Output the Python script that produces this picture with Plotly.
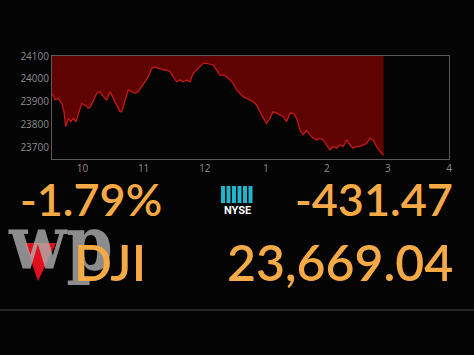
import plotly.graph_objects as go

# --- data (hours since midnight, Dow Jones index level) ---
times = [9.5, 9.521, 9.549, 9.603, 9.659, 9.696, 9.724, 9.767, 9.806, 9.849, 9.893,
         9.930, 9.986, 10.040, 10.094, 10.133, 10.176, 10.232, 10.286, 10.340, 10.395,
         10.449, 10.503, 10.559, 10.613, 10.641, 10.695, 10.749, 10.804, 10.858, 10.912,
         10.968, 11.022, 11.076, 11.132, 11.186, 11.240, 11.268, 11.322, 11.377, 11.431,
         11.485, 11.541, 11.595, 11.649, 11.703, 11.759, 11.813, 11.868, 11.922, 11.976,
         12.032, 12.086, 12.140, 12.196, 12.250, 12.304, 12.359, 12.413, 12.467, 12.523,
         12.577, 12.631, 12.687, 12.741, 12.795, 12.850, 12.932, 13.014, 13.068, 13.122,
         13.178, 13.232, 13.286, 13.341, 13.395, 13.449, 13.505, 13.559, 13.613, 13.668,
         13.722, 13.776, 13.832, 13.886, 13.940, 13.995, 14.050, 14.104, 14.159, 14.214,
         14.268, 14.323, 14.377, 14.431, 14.487, 14.541, 14.595, 14.650, 14.705, 14.759,
         14.814, 14.868, 14.900, 14.930]
dji = [23935, 23930, 23909, 23916, 23894, 23858, 23793, 23829, 23814, 23829, 23814,
       23843, 23894, 23887, 23873, 23880, 23909, 23938, 23945, 23923, 23909,
       23945, 23916, 23887, 23858, 23858, 23909, 23952, 23945, 23938, 23945,
       23967, 23988, 24010, 24046, 24053, 24046, 24046, 24039, 24039, 24032,
       24010, 23988, 23996, 23988, 23996, 23988, 24025, 24039, 24053, 24068,
       24068, 24065, 24061, 24039, 24017, 24017, 24010, 23996, 23981, 23952,
       23938, 23923, 23916, 23909, 23901, 23887, 23843, 23807, 23829, 23858,
       23851, 23843, 23836, 23814, 23851, 23851, 23829, 23778, 23757, 23778,
       23757, 23742, 23735, 23742, 23735, 23713, 23691, 23706, 23699, 23713,
       23706, 23735, 23713, 23699, 23706, 23706, 23713, 23720, 23742, 23735,
       23706, 23684, 23675, 23669]

x_tickvals = [10, 11, 12, 13, 14, 15, 16]
x_ticktext = ["10", "11", "12", "1", "2", "3", "4"]
y_tickvals = [23700, 23800, 23900, 24000, 24100]

pct_change = "-1.79%"
pt_change = "-431.47"
symbol = "DJI"
last_value = "23,669.04"

ORANGE = "#f6aa45"
BG = "#040404"

fig = go.Figure()
fig.add_trace(go.Scatter(
    x=times, y=dji, mode="lines",
    line=dict(color="#c41818", width=1.3),
    fill="tozeroy", fillcolor=BG,
    hoverinfo="skip", showlegend=False,
))


def px(x):
    return (x - 52) / 397


def py(y):
    return (159 - y) / 103


shapes = [
    # red area above the line over the traded session
    dict(type="rect", xref="x", yref="paper", x0=times[0], x1=times[-1], y0=0, y1=1,
         fillcolor="#5e0202", line=dict(width=0), layer="below"),
    # separator line near bottom
    dict(type="line", xref="paper", yref="paper", x0=-0.2, x1=1.2,
         y0=py(310), y1=py(310), line=dict(color="#262626", width=2)),
    # red triangle of the logo
    dict(type="path", xref="paper", yref="paper",
         path="M {} {} L {} {} L {} {} Z".format(px(25), py(243), px(56), py(243),
                                                 px(38), py(281)),
         fillcolor="#e0101e", line=dict(width=0)),
]
# NYSE logo bars
for i in range(6):
    x0 = 221 + i * 5.5
    shapes.append(dict(type="rect", xref="paper", yref="paper",
                       x0=px(x0), x1=px(x0 + 4), y0=py(203), y1=py(186),
                       fillcolor="#22b4cc", line=dict(width=0)))

big = dict(family="Lato, 'Open Sans', sans-serif", color=ORANGE, weight=600)
annotations = [
    dict(text=pct_change, x=px(18), y=py(199), xanchor="left", yanchor="middle",
         font=dict(size=45, **big), showarrow=False, xref="paper", yref="paper"),
    dict(text=pt_change, x=px(455), y=py(199), xanchor="right", yanchor="middle",
         font=dict(size=45, **big), showarrow=False, xref="paper", yref="paper"),
    dict(text="wp", x=px(60), y=py(243), xanchor="center", yanchor="middle",
         font=dict(size=74, family="'DejaVu Serif Condensed', 'DejaVu Serif'",
                   color="rgba(175,175,175,0.8)", weight="bold"),
         showarrow=False, xref="paper", yref="paper"),
    dict(text=symbol, x=px(72), y=py(262), xanchor="left", yanchor="middle",
         font=dict(size=50, **big), showarrow=False, xref="paper", yref="paper"),
    dict(text=last_value, x=px(455), y=py(262), xanchor="right", yanchor="middle",
         font=dict(size=50, **big), showarrow=False, xref="paper", yref="paper"),
    dict(text="<b>NYSE</b>", x=px(237), y=py(210), xanchor="center", yanchor="middle",
         font=dict(size=11, family="Roboto, sans-serif", color="#ffffff"),
         showarrow=False, xref="paper", yref="paper"),
]

fig.update_layout(
    width=474, height=355,
    margin=dict(l=52, r=25, t=56, b=196),
    paper_bgcolor=BG, plot_bgcolor=BG,
    shapes=shapes, annotations=annotations,
    xaxis=dict(range=[9.5, 16], tickvals=x_tickvals, ticktext=x_ticktext,
               showgrid=False, zeroline=False, showline=True, mirror=True,
               linecolor="#5a5a5a", linewidth=1,
               tickfont=dict(color="#8c8c8c", size=10, family="Open Sans"),
               ticks="", fixedrange=True),
    yaxis=dict(range=[23652, 24100], tickvals=y_tickvals,
               showgrid=False, zeroline=False, showline=True, mirror=True,
               linecolor="#5a5a5a", linewidth=1, tickformat="d",
               tickfont=dict(color="#8c8c8c", size=10, family="Open Sans"),
               ticks="", fixedrange=True),
)

fig.write_html("out.html", config={"displayModeBar": False})
